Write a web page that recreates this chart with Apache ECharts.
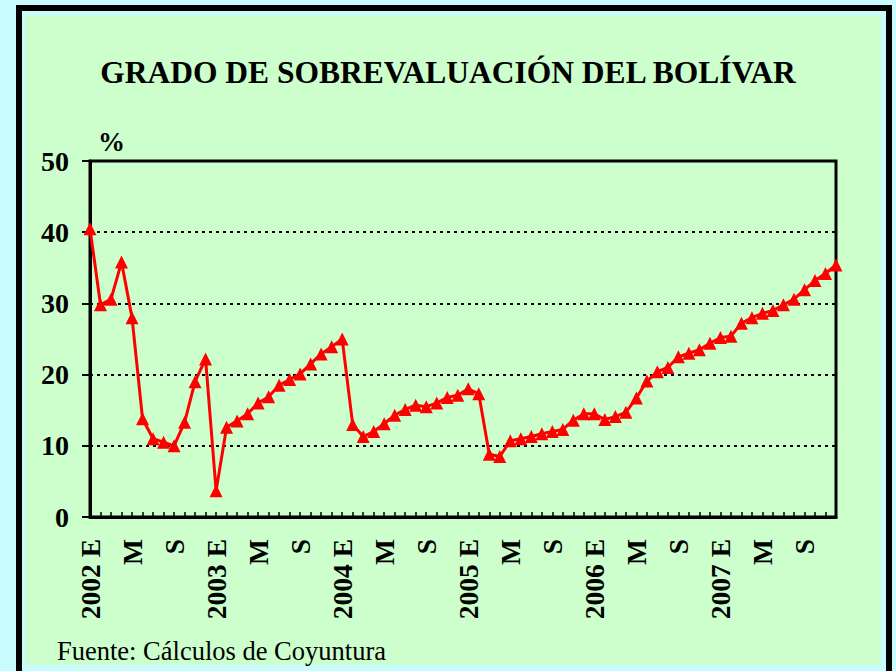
<!DOCTYPE html>
<html>
<head>
<meta charset="utf-8">
<script src="https://cdn.jsdelivr.net/npm/echarts@6/dist/echarts.min.js"></script>
<style>
html,body{margin:0;padding:0;background:#c8fcff;}
#c{width:896px;height:671px;}
</style>
</head>
<body>
<div id="c"></div>
<script>
// ---- data ----
const years = [2002, 2003, 2004, 2005, 2006, 2007];
const monthLetters = ['E','F','M','A','M','J','J','A','S','O','N','D'];
const shownMonths = [0, 4, 8]; // E, M, S
const values2002 = [40.5, 29.8, 30.6, 35.8, 28.0, 13.8, 11.0, 10.5, 10.0, 13.3, 19.0, 22.2];
const values2003 = [3.7, 12.6, 13.5, 14.5, 16.0, 16.9, 18.5, 19.3, 20.1, 21.5, 22.9, 23.9];
const values2004 = [25.0, 13.0, 11.3, 12.0, 13.1, 14.3, 15.1, 15.7, 15.5, 16.0, 16.8, 17.1];
const values2005 = [18.0, 17.3, 8.8, 8.5, 10.7, 11.0, 11.3, 11.7, 12.0, 12.3, 13.6, 14.5];
const values2006 = [14.5, 13.7, 14.1, 14.7, 16.7, 19.1, 20.4, 21.0, 22.5, 23.0, 23.5, 24.4];
const values2007 = [25.2, 25.4, 27.2, 28.0, 28.6, 29.0, 29.8, 30.6, 31.9, 33.2, 34.2, 35.4];
const yTicks = [0, 10, 20, 30, 40, 50];
const titleText = 'GRADO DE SOBREVALUACIÓN DEL BOLÍVAR';
const unitText = '%';
const sourceText = 'Fuente: Cálculos de Coyuntura';

// ---- build ----
const categories = [];
const tickLabels = [];
years.forEach(y => monthLetters.forEach((m, i) => {
  categories.push(y + ' ' + m);
  tickLabels.push(i === 0 ? (y + ' ' + m) : (shownMonths.indexOf(i) >= 0 ? m : ''));
}));
const values = [].concat(values2002, values2003, values2004, values2005, values2006, values2007);

const serif = '"Liberation Serif", "Times New Roman", serif';
const chart = echarts.init(document.getElementById('c'), null, {renderer: 'svg'});
chart.setOption({
  backgroundColor: '#c8fcff',
  animation: false,
  graphic: [
    {type: 'rect', z: -10, shape: {x: 16, y: 5, width: 876, height: 700}, style: {fill: '#000000'}},
    {type: 'rect', z: -9, shape: {x: 22, y: 11, width: 864, height: 700}, style: {fill: '#c8fcff'}},
    {type: 'rect', z: -8, shape: {x: 25, y: 15, width: 856, height: 650}, style: {fill: '#ccffcc'}}
  ],
  title: [
    {text: titleText, left: 'center', top: 51,
     textStyle: {fontFamily: serif, fontWeight: 'bold', fontSize: 31.5, color: '#000'}},
    {text: sourceText, left: 52, top: 632,
     textStyle: {fontFamily: serif, fontWeight: 'normal', fontSize: 26.5, color: '#000'}}
  ],
  grid: {left: 90, right: 60, top: 161, bottom: 154, show: true,
         borderColor: '#000', borderWidth: 3, backgroundColor: 'transparent'},
  xAxis: {
    type: 'category', data: categories, boundaryGap: false,
    axisLine: {lineStyle: {color: '#000', width: 3}},
    axisTick: {show: true, inside: true, length: 5, interval: 0, lineStyle: {color: '#000', width: 1.5}},
    axisLabel: {interval: 0, rotate: 90, margin: 22,
      formatter: (v, i) => tickLabels[i],
      fontFamily: serif, fontWeight: 'bold', fontSize: 27.5, color: '#000'},
    splitLine: {show: false}
  },
  yAxis: {
    type: 'value', min: yTicks[0], max: yTicks[yTicks.length - 1], interval: 10,
    name: unitText, nameLocation: 'end', nameGap: 6,
    nameTextStyle: {fontFamily: serif, fontWeight: 'bold', fontSize: 27, color: '#000', align: 'left', padding: [0, 0, 0, 8]},
    axisLine: {show: true, lineStyle: {color: '#000', width: 3}},
    axisTick: {show: true, length: 8, lineStyle: {color: '#000', width: 2}},
    axisLabel: {margin: 21, fontFamily: serif, fontWeight: 'bold', fontSize: 28, color: '#000'},
    splitLine: {show: true, lineStyle: {color: '#000', width: 2, type: [3, 4]}}
  },
  series: [{
    type: 'line', data: values,
    symbol: 'triangle', symbolSize: 13,
    lineStyle: {color: '#ff0000', width: 3},
    itemStyle: {color: '#ff0000'}
  }]
});
</script>
</body>
</html>
